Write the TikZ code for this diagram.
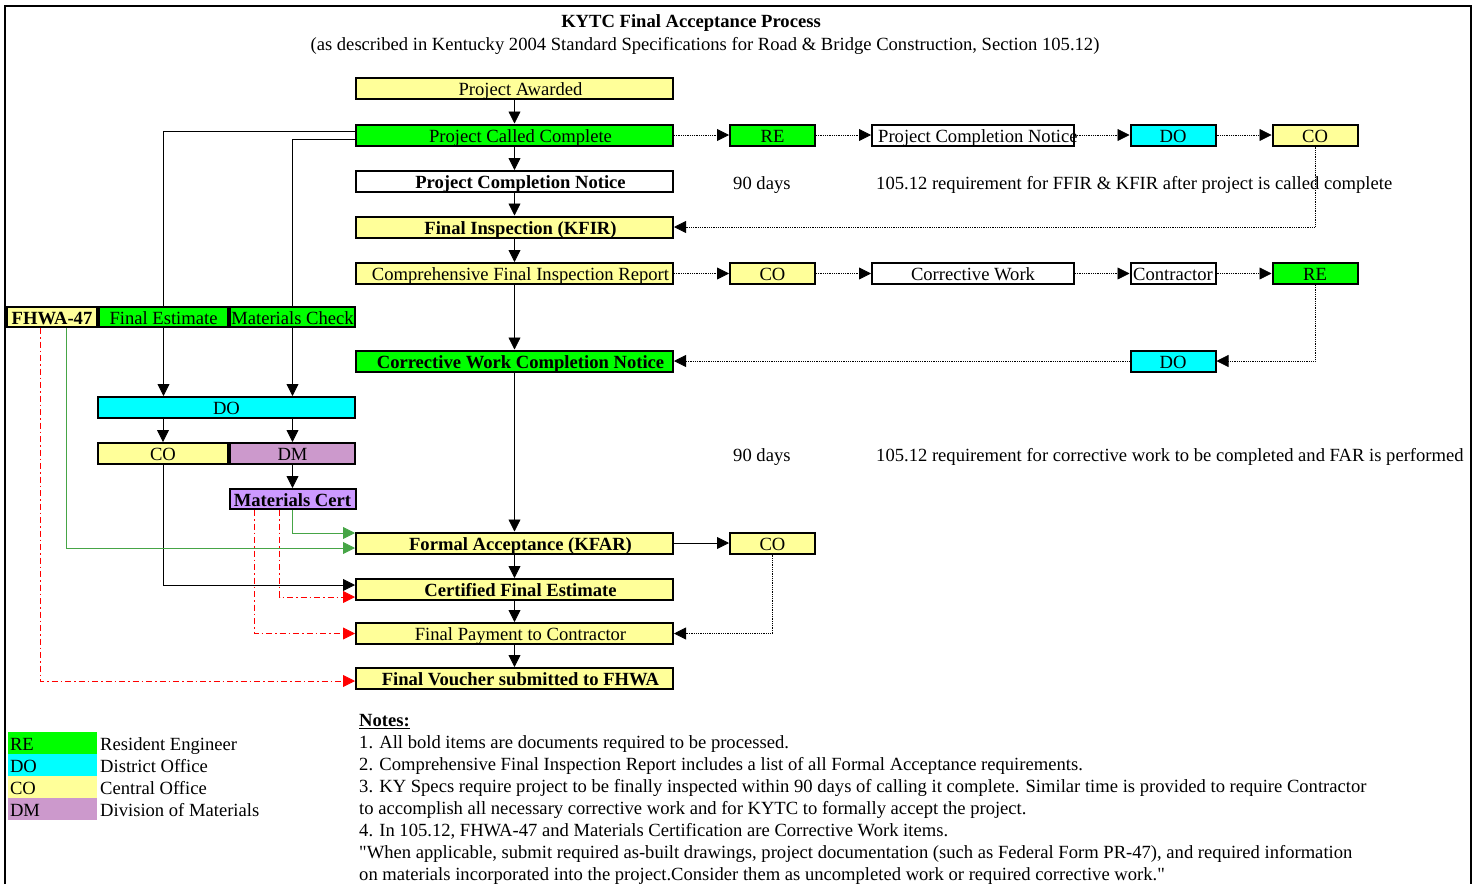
\documentclass[tikz,border=0pt]{standalone}
\usepackage{fontspec}
\setmainfont{Liberation Serif}
\usetikzlibrary{arrows.meta,positioning}

\definecolor{regreen}{RGB}{0,255,0}
\definecolor{docyan}{RGB}{0,255,255}
\definecolor{coyellow}{RGB}{255,255,153}
\definecolor{dmpurple}{RGB}{204,153,204}
\definecolor{certpurple}{RGB}{204,153,255}
\definecolor{linkgreen}{RGB}{70,165,70}

\tikzset{
	box/.style={draw, line width=2pt, minimum height=21pt, text height=14pt, text depth=0pt},
	mainbox/.style={box, minimum width=317pt, execute at begin node={\hspace*{12pt}}},
	sidebox/.style={box, minimum width=85pt},
	keybox/.style={minimum width=89pt, minimum height=22pt, text width=85pt, align=left, text height=14pt, text depth=0pt},
	conn/.style={line width=0.8pt, -{Triangle[length=12pt,width=12pt]}},
	dotconn/.style={conn, densely dotted},
	greenconn/.style={conn, draw=linkgreen, -{Triangle[length=12pt,width=12pt,fill=linkgreen]}},
	redconn/.style={conn, draw=red, dash pattern=on 6pt off 3pt on 1.5pt off 3pt, -{Triangle[length=12pt,width=12pt,fill=red]}}
}

\begin{document}
\fontsize{18.6pt}{22pt}\selectfont
\begin{tikzpicture}[x=1pt, y=-1pt, inner sep=0pt]
	\useasboundingbox (0,0) rectangle (1481,884);
	\draw[line width=2pt] (5,884) -- (5,6) -- (1471,6) -- (1471,884);
	\node[anchor=base, font=\bfseries] (title) at (691,27) {KYTC Final Acceptance Process};
	\node[anchor=base] (subtitle) at (705,50) {(as described in Kentucky 2004 Standard Specifications for Road \& Bridge Construction, Section 105.12)};
	% main column
	\node[mainbox, fill=coyellow] (awarded) at (514.5,88) {Project Awarded};
	\node[mainbox, fill=regreen] (called) at (514.5,135) {Project Called Complete};
	\node[mainbox, fill=white, font=\bfseries] (pcn) at (514.5,181.5) {Project Completion Notice};
	\node[mainbox, fill=coyellow, font=\bfseries] (kfir) at (514.5,227) {Final Inspection (KFIR)};
	\node[mainbox, fill=coyellow] (cfir) at (514.5,273.5) {Comprehensive Final Inspection Report};
	\node[mainbox, fill=regreen, font=\bfseries] (cwcn) at (514.5,361) {Corrective Work Completion Notice};
	\node[mainbox, fill=coyellow, font=\bfseries] (kfar) at (514.5,543) {Formal Acceptance (KFAR)};
	\node[mainbox, fill=coyellow, font=\bfseries] (cfe) at (514.5,589.5) {Certified Final Estimate};
	\node[mainbox, fill=coyellow] (pay) at (514.5,633.5) {Final Payment to Contractor};
	\node[mainbox, fill=coyellow, font=\bfseries] (voucher) at (514.5,678.5) {Final Voucher submitted to FHWA};
	\draw[conn] (awarded) -- (called);
	\draw[conn] (called) -- (pcn);
	\draw[conn] (pcn) -- (kfir);
	\draw[conn] (kfir) -- (cfir);
	\draw[conn] (cfir) -- (cwcn);
	\draw[conn] (cwcn) -- (kfar);
	\draw[conn] (kfar) -- (cfe);
	\draw[conn] (cfe) -- (pay);
	\draw[conn] (pay) -- (voucher);
	% right side
	\node[sidebox, fill=regreen] (re1) at (772.5,135) {RE};
	\node[box, fill=white, minimum width=202pt] (pcn2) at (973,135) {};
	\node[anchor=base west] (pcntext) at ([xshift=7pt]pcn2.west |- 0,142) {Project Completion Notice};
	\node[sidebox, fill=docyan] (do1) at (1173,135) {DO};
	\node[sidebox, fill=coyellow] (co1) at (1315,135) {CO};
	\node[sidebox, fill=coyellow] (co2) at (772.5,273.5) {CO};
	\node[box, fill=white, minimum width=202pt] (cw) at (973,273.5) {Corrective Work};
	\node[sidebox, fill=white] (contractor) at (1173,273.5) {Contractor};
	\node[sidebox, fill=regreen] (re2) at (1315,273.5) {RE};
	\node[sidebox, fill=docyan] (do2) at (1173,361) {DO};
	\node[sidebox, fill=coyellow] (co3) at (772.5,543) {CO};
	\draw[dotconn] (called) -- (re1);
	\draw[dotconn] (re1) -- (pcn2);
	\draw[dotconn] (pcn2) -- (do1);
	\draw[dotconn] (do1) -- (co1);
	\draw[dotconn] (co1.south) |- (kfir.east);
	\draw[dotconn] (cfir) -- (co2);
	\draw[dotconn] (co2) -- (cw);
	\draw[dotconn] (cw) -- (contractor);
	\draw[dotconn] (contractor) -- (re2);
	\draw[dotconn] (re2.south) |- (do2.east);
	\draw[dotconn] (do2) -- (cwcn);
	\draw[conn] (kfar) -- (co3);
	\draw[dotconn] (co3.south) |- (pay.east);
	\node[anchor=base west] (days1) at (733,189) {90 days};
	\node[anchor=base west] (req1) at (876,189) {105.12 requirement for FFIR \& KFIR after project is called complete};
	\node[anchor=base west] (days2) at (733,461) {90 days};
	\node[anchor=base west] (req2) at (876,461) {105.12 requirement for corrective work to be completed and FAR is performed};
	% left side
	\node[box, fill=coyellow, minimum width=90pt, minimum height=20pt, font=\bfseries] (fhwa) at (52,317) {FHWA-47};
	\node[box, fill=regreen, minimum width=129pt, minimum height=20pt] (fe) at (163.5,317) {Final Estimate};
	\node[box, fill=regreen, minimum width=125pt, minimum height=20pt] (mc) at (292.5,317) {Materials Check};
	\node[box, fill=docyan, minimum width=257pt] (do3) at (226.5,407.5) {DO};
	\node[box, fill=coyellow, minimum width=130pt] (co4) at (163,453.5) {CO};
	\node[box, fill=dmpurple, minimum width=125pt] (dm) at (292.5,453.5) {DM};
	\node[box, fill=certpurple, minimum width=126pt, minimum height=20pt, font=\bfseries] (mcert) at (292.5,499) {Materials Cert};
	\draw[line width=0.8pt] ([yshift=4pt]called.west) -| (fe.north);
	\draw[line width=0.8pt] ([yshift=-4pt]called.west) -| (mc.north);
	\draw[conn] (fe.south) -- (fe.south |- do3.north);
	\draw[conn] (mc.south) -- (mc.south |- do3.north);
	\draw[conn] (co4.north |- do3.south) -- (co4.north);
	\draw[conn] (dm.north |- do3.south) -- (dm.north);
	\draw[conn] (dm) -- (mcert);
	\draw[conn] (co4.south) |- ([yshift=4.5pt]cfe.west);
	\draw[greenconn] (mcert.south) |- ([yshift=10pt]kfar.west);
	\draw[greenconn] ([xshift=14pt]fhwa.south) |- ([yshift=-5pt]kfar.west);
	\draw[redconn] ([xshift=-12pt]fhwa.south) |- ([yshift=-2.5pt]voucher.west);
	\draw[redconn] ([xshift=-13pt]mcert.south) |- ([yshift=-7.5pt]cfe.west);
	\draw[redconn] ([xshift=-38pt]mcert.south) |- (pay.west);
	% legend
	\foreach \abbr/\desc/\col [count=\i] in {RE/Resident Engineer/regreen, DO/District Office/docyan, CO/Central Office/coyellow, DM/Division of Materials/dmpurple} {
		\node[keybox, fill=\col] (key\abbr) at (52.5,721+22*\i) {\abbr};
		\node[anchor=west, text height=14pt, text depth=0pt] (keytext\abbr) at (100,721+22*\i) {\desc};
	}
	% notes
	\node[anchor=north west, align=left] (notes) at (359,714) {\underline{\textbf{Notes:}}\\
		1. All bold items are documents required to be processed.\\
		2. Comprehensive Final Inspection Report includes a list of all Formal Acceptance requirements.\\
		3. KY Specs require project to be finally inspected within 90 days of calling it complete. Similar time is provided to require Contractor\\
		to accomplish all necessary corrective work and for KYTC to formally accept the project.\\
		4. In 105.12, FHWA-47 and Materials Certification are Corrective Work items.\\
		\textquotedbl When applicable, submit required as-built drawings, project documentation (such as Federal Form PR-47), and required information\\
		on materials incorporated into the project.Consider them as uncompleted work or required corrective work.\textquotedbl};
\end{tikzpicture}
\end{document}
